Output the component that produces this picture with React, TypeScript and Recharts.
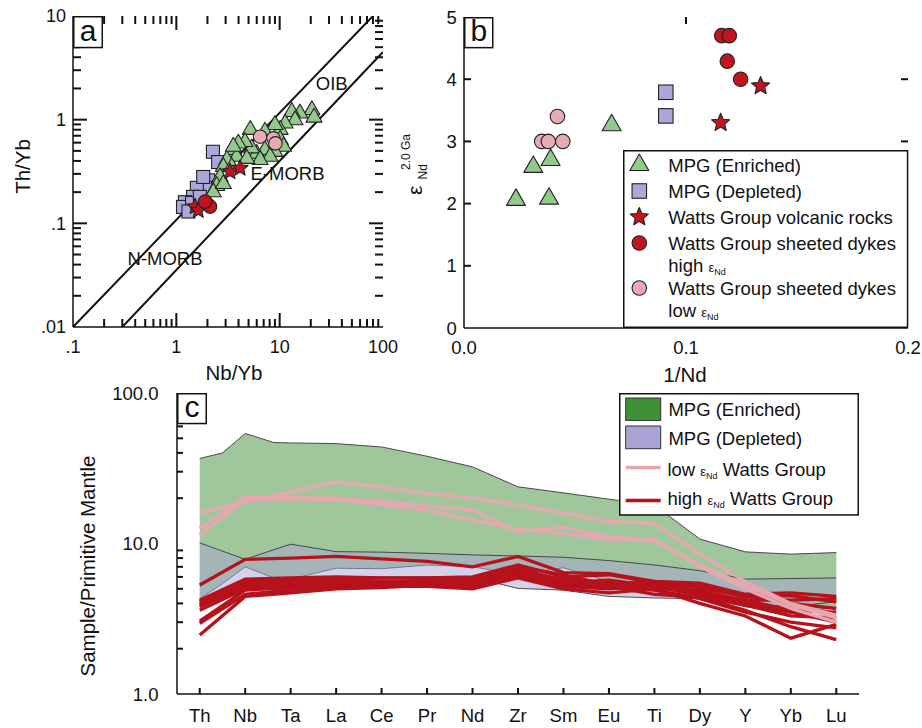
import React from 'react';
import {
  ScatterChart, Scatter, ComposedChart, Area, Line, XAxis, YAxis, Legend, ReferenceDot,
} from 'recharts';

const FONT = '"Liberation Sans", Arial, Helvetica, sans-serif';
const INK = '#111';
const EDGE = '#222';
const C_GREEN = '#93c98c';
const C_LAV = '#aba7d9';
const C_RED = '#c3141e';
const C_PINK = '#e7abb4';
const C_ENV_GREEN = '#3f9037';
const C_ENV_LAV = '#aaa4d5';
const C_RED_LINE = '#b7111c';
const C_PINK_LINE = '#e6a7b0';

// ---------------- Panel a : Th/Yb vs Nb/Yb ----------------
const aEnriched: number[][] = [
  [20.5, 1.24], [15.7, 1.15], [13.1, 1.19], [14.1, 0.99], [11.3, 0.92], [10.1, 0.8], [9.0, 0.89],
  [7.2, 0.77], [5.2, 0.8], [10.1, 0.64], [10.9, 0.55], [9.0, 0.49], [7.2, 0.51], [6.0, 0.47],
  [5.37, 0.53], [4.62, 0.61], [3.98, 0.59], [3.56, 0.51], [3.84, 0.44], [3.08, 0.41], [2.85, 0.35],
  [3.44, 0.35], [2.65, 0.28], [2.46, 0.23], [2.28, 0.2], [2.85, 0.24], [8.07, 0.44], [6.46, 0.41],
  [4.81, 0.42], [21.5, 1.05], [3.56, 0.55],
];
const aDepleted: number[][] = [
  [2.26, 0.49], [2.54, 0.39], [2.03, 0.26], [1.9, 0.22], [1.58, 0.22], [1.45, 0.18], [1.21, 0.16],
  [1.16, 0.144], [1.42, 0.157], [1.69, 0.18], [1.31, 0.13], [1.82, 0.28],
];
const aVolcanic: number[][] = [[1.52, 0.145], [1.63, 0.133], [3.31, 0.315], [4.14, 0.34]];
const aDykesHigh: number[][] = [[1.97, 0.156], [2.12, 0.145], [1.9, 0.162]];
const aDykesLow: number[][] = [[6.46, 0.685], [8.69, 0.66], [9.1, 0.59]];
const aArrayUpper: number[][] = [[0.1, 0.01], [80, 10]];
const aArrayLower: number[][] = [[0.3, 0.01], [100, 4.5]];
const aNotes = [
  { text: 'OIB', x: 31.9, y: 2.24 },
  { text: 'E-MORB', x: 11.9, y: 0.306 },
  { text: 'N-MORB', x: 0.778, y: 0.0463 },
];
const aXMajor = [0.1, 1, 10, 100];
const aXLabels = ['.1', '1', '10', '100'];
const aYMajor = [0.01, 0.1, 1, 10];
const aYLabels = ['.01', '.1', '1', '10'];

// ---------------- Panel b : eNd vs 1/Nd ----------------
const bEnriched: number[][] = [[0.0234, 2.06], [0.0312, 2.59], [0.039, 2.7], [0.0383, 2.08], [0.0665, 3.26]];
const bDepleted: number[][] = [[0.0909, 3.79], [0.0909, 3.41]];
const bVolcanic: number[][] = [[0.1156, 3.3], [0.1336, 3.89]];
const bDykesHigh: number[][] = [[0.1161, 4.7], [0.1195, 4.7], [0.1186, 4.29], [0.1246, 4.0]];
const bDykesLow: number[][] = [[0.0421, 3.4], [0.035, 3.0], [0.038, 3.0], [0.0445, 3.0]];
const bXTicks = [0, 0.1, 0.2];
const bXLabels = ['0.0', '0.1', '0.2'];
const bYTicks = [0, 1, 2, 3, 4, 5];
const bYLabels = ['0', '1', '2', '3', '4', '5'];

// ---------------- Panel c : spider diagram ----------------
const elements = ['Th', 'Nb', 'Ta', 'La', 'Ce', 'Pr', 'Nd', 'Zr', 'Sm', 'Eu', 'Ti', 'Dy', 'Y', 'Yb', 'Lu'];
const envPos = [0, 0.5, 1, 1.63, 2, 3, 4, 5, 6, 7, 8, 9, 10, 11, 12, 13, 14];
const enrichedTop = [36.7, 40, 53.8, 46.9, 46.6, 46.1, 43.8, 38, 32.3, 23.8, 21.7, 19.7, 18, 10.7, 8.8, 8.5, 8.7];
const enrichedBottom = [4.3, 5.4, 7.0, 5.9, 5.8, 6.85, 6.8, 7.2, 7.0, 6.2, 6.9, 5.6, 5.0, 4.4, 3.8, 3.45, 3.75];
const depletedTop = [10.1, 8.9, 7.85, 9.1, 9.9, 8.83, 8.76, 8.6, 8.4, 8.26, 8.1, 7.7, 7.2, 6.6, 5.8, 5.85, 5.9];
const depletedBottom = [3.8, 4.6, 5.4, 5.6, 5.7, 6.0, 6.0, 6.0, 5.97, 5.03, 4.9, 4.45, 4.35, 4.3, 4.0, 3.8, 4.1];
const highEps: number[][] = [
  [5.3, 7.85, 8.0, 8.2, 7.9, 7.6, 7.0, 8.2, 6.4, 6.3, 5.6, 5.45, 4.6, 4.7, 4.45],
  [4.2, 5.8, 5.9, 6.0, 5.9, 5.9, 6.0, 7.2, 6.0, 6.2, 5.5, 5.2, 4.4, 4.5, 4.1],
  [4.0, 5.5, 5.6, 5.8, 5.6, 5.6, 5.7, 6.8, 5.7, 5.4, 5.6, 4.8, 4.2, 3.6, 3.5],
  [3.8, 5.2, 5.4, 5.6, 5.5, 5.7, 5.5, 6.5, 5.5, 5.7, 5.2, 4.5, 3.9, 3.3, 3.2],
  [3.6, 5.0, 5.2, 5.4, 5.3, 5.4, 5.3, 6.0, 5.2, 5.0, 5.3, 4.7, 4.0, 3.5, 3.0],
  [3.05, 4.9, 5.1, 5.3, 5.2, 5.3, 5.1, 6.2, 5.4, 5.1, 4.9, 4.3, 3.5, 3.0, 2.75],
  [2.95, 4.6, 4.9, 5.1, 5.2, 5.2, 5.0, 5.9, 5.0, 4.7, 5.0, 4.0, 3.3, 2.35, 2.9],
  [2.47, 4.45, 4.7, 5.0, 5.1, 5.3, 5.2, 6.6, 5.6, 5.2, 4.6, 4.4, 3.6, 2.8, 2.3],
  [4.1, 5.6, 5.7, 5.7, 5.6, 5.6, 5.8, 7.0, 6.2, 5.3, 5.0, 5.0, 4.5, 4.0, 3.7],
  [3.9, 5.3, 5.5, 5.5, 5.4, 5.5, 5.6, 6.4, 5.8, 5.5, 5.4, 4.6, 4.2, 4.2, 4.3],
];
const lowEps: number[][] = [
  [16.0, 18.9, 22.0, 25.7, 23.8, 21.5, 20.0, 18.0, 15.9, 14.0, 13.6, 8.5, 5.6, 4.0, 3.35],
  [12.6, 20.3, 20.2, 20.0, 19.0, 17.8, 16.7, 12.0, 12.8, 11.0, 10.6, 7.0, 5.0, 3.7, 3.0],
  [11.4, 19.5, 19.8, 19.5, 18.2, 16.6, 14.3, 12.4, 11.6, 10.7, 10.4, 7.2, 5.3, 3.9, 3.2],
];
const cYMajor = [1, 10, 100];
const cYLabels = ['1.0', '10.0', '100.0'];

// ---------------- layout (chart geometry) ----------------
const A_BOX = { left: 0, top: 0, w: 400, h: 390, m: { top: 16, right: 17, bottom: 8, left: 13 }, yw: 60, xh: 55 };
const B_BOX = { left: 400, top: 0, w: 522, h: 390, m: { top: 17, right: 14, bottom: 7, left: 14 }, yw: 50, xh: 55 };
const C_BOX = { left: 0, top: 360, w: 922, h: 368, m: { top: 33, right: 63, bottom: 4, left: 97 }, yw: 80, xh: 30 };
const plotRect = (b: typeof A_BOX) => ({
  l: b.left + b.m.left + b.yw,
  r: b.left + b.w - b.m.right,
  t: b.top + b.m.top,
  b: b.top + b.h - b.m.bottom - b.xh,
});

// ---------------- helpers ----------------
const pts = (arr: number[][]) => arr.map(([x, y]) => ({ x, y }));

function logTicks(lo: number, hi: number) {
  const out: number[] = [];
  for (let d = lo; d < hi * 0.999; d *= 10) {
    for (let k = 1; k < 10; k++) out.push(+(d * k).toPrecision(3));
  }
  out.push(hi);
  return out;
}
const isIn = (list: number[], v: number) => list.some((m) => Math.abs(m - v) <= 1e-9 + Math.abs(m) * 1e-6);

type Side = 'bottom' | 'left';
function makeLabel(side: Side, majors: number[], labels: string[], gap: number, fontSize = 18.5) {
  return function TickLabel(props: any) {
    const x = Number(props.x);
    const y = Number(props.y);
    const v = Number(props.payload && props.payload.value);
    if (!isFinite(x) || !isFinite(y)) return <g />;
    const mi = majors.findIndex((m) => Math.abs(m - v) <= 1e-9 + Math.abs(m) * 1e-6);
    if (mi < 0) return <g />;
    if (side === 'bottom') {
      return <text x={x} y={y + gap} textAnchor="middle" fontSize={fontSize} fontFamily={FONT} fill={INK}>{labels[mi]}</text>;
    }
    return <text x={x - gap} y={y + fontSize * 0.36} textAnchor="end" fontSize={fontSize} fontFamily={FONT} fill={INK}>{labels[mi]}</text>;
  };
}

// inward tick marks of the frames (axis decoration)
type Dom = { lo: number; hi: number; log?: boolean };
const frac = (v: number, d: Dom) =>
  d.log ? (Math.log10(v) - Math.log10(d.lo)) / (Math.log10(d.hi) - Math.log10(d.lo)) : (v - d.lo) / (d.hi - d.lo);
type TickSpec = { vals: number[]; len: number };
const TW = 2;
function FrameTicks({ rect, xd, yd, bottom = [], top = [], left = [], right = [] }: {
  rect: { l: number; r: number; t: number; b: number }; xd: Dom; yd: Dom;
  bottom?: TickSpec[]; top?: TickSpec[]; left?: TickSpec[]; right?: TickSpec[];
}) {
  const X = (v: number) => rect.l + frac(v, xd) * (rect.r - rect.l);
  const Y = (v: number) => rect.b - frac(v, yd) * (rect.b - rect.t);
  const out: React.ReactNode[] = [];
  bottom.forEach((s, i) => s.vals.forEach((v) => out.push(<line key={`b${i}-${v}`} x1={X(v)} x2={X(v)} y1={rect.b} y2={rect.b - s.len} stroke={INK} strokeWidth={TW} />)));
  top.forEach((s, i) => s.vals.forEach((v) => out.push(<line key={`t${i}-${v}`} x1={X(v)} x2={X(v)} y1={rect.t} y2={rect.t + s.len} stroke={INK} strokeWidth={TW} />)));
  left.forEach((s, i) => s.vals.forEach((v) => out.push(<line key={`l${i}-${v}`} x1={rect.l} x2={rect.l + s.len} y1={Y(v)} y2={Y(v)} stroke={INK} strokeWidth={TW} />)));
  right.forEach((s, i) => s.vals.forEach((v) => out.push(<line key={`r${i}-${v}`} x1={rect.r} x2={rect.r - s.len} y1={Y(v)} y2={Y(v)} stroke={INK} strokeWidth={TW} />)));
  return <g>{out}</g>;
}

type Kind = 'tri' | 'sq' | 'star' | 'dot';
function drawMarker(kind: Kind, cx: number, cy: number, s: number, fill: string) {
  if (cx == null || cy == null || !isFinite(cx) || !isFinite(cy)) return <g />;
  const sw = 1.1;
  if (kind === 'tri') {
    const h = s * 0.866;
    const p = `${cx},${cy - (2 * h) / 3} ${cx - s / 2},${cy + h / 3} ${cx + s / 2},${cy + h / 3}`;
    return <polygon points={p} fill={fill} stroke={EDGE} strokeWidth={sw} strokeLinejoin="round" />;
  }
  if (kind === 'sq') {
    return <rect x={cx - s / 2} y={cy - s / 2} width={s} height={s} fill={fill} stroke={EDGE} strokeWidth={sw} />;
  }
  if (kind === 'star') {
    const R = s / 2;
    const r = R * 0.45;
    const a: string[] = [];
    for (let i = 0; i < 10; i++) {
      const ang = -Math.PI / 2 + (i * Math.PI) / 5;
      const rad = i % 2 === 0 ? R : r;
      a.push(`${cx + rad * Math.cos(ang)},${cy + rad * Math.sin(ang)}`);
    }
    return <polygon points={a.join(' ')} fill={fill} stroke={EDGE} strokeWidth={sw} strokeLinejoin="round" />;
  }
  return <circle cx={cx} cy={cy} r={s / 2} fill={fill} stroke={EDGE} strokeWidth={sw} />;
}
const shape = (kind: Kind, s: number, fill: string) => (p: any) => drawMarker(kind, p.cx, p.cy, s, fill);
const noShape = () => <g />;

const axisLine = { stroke: INK, strokeWidth: 1.5 };

// ---------------- Panel a ----------------
function PanelA() {
  const xTicks = logTicks(0.1, 100);
  const yTicks = logTicks(0.01, 10);
  const B = A_BOX;
  return (
    <div style={{ position: 'absolute', left: B.left, top: B.top }}>
      <ScatterChart width={B.w} height={B.h} margin={B.m}>
        <XAxis
          dataKey="x" type="number" scale="log" domain={[0.1, 100]} allowDataOverflow ticks={xTicks} interval={0}
          tickSize={0} tickMargin={0} tickLine={false} axisLine={axisLine} height={B.xh}
          tick={makeLabel('bottom', aXMajor, aXLabels, 26, 18)}
          label={(p: any) => {
            const vb = p.viewBox || { x: 73, y: 327, width: 310, height: 55 };
            return (
              <text x={vb.x + vb.width / 2 + 6} y={vb.y + 52.7} textAnchor="middle" fontSize={20.5} fontFamily={FONT} fill={INK}>Nb/Yb</text>
            );
          }}
        />
        <XAxis
          xAxisId="t" orientation="top" dataKey="x" type="number" scale="log" domain={[0.1, 100]} allowDataOverflow
          tick={false} tickLine={false} axisLine={axisLine} height={0}
        />
        <YAxis
          dataKey="y" type="number" scale="log" domain={[0.01, 10]} allowDataOverflow ticks={yTicks} interval={0}
          tickSize={0} tickMargin={0} tickLine={false} axisLine={axisLine} width={B.yw}
          tick={makeLabel('left', aYMajor, aYLabels, 7, 18)}
          label={(p: any) => {
            const vb = p.viewBox || { x: 13, y: 16, width: 60, height: 311 };
            const cx = vb.x + 17;
            const cy = vb.y + vb.height / 2 - 5;
            return (
              <text x={cx} y={cy} transform={`rotate(-90 ${cx} ${cy})`} textAnchor="middle" fontSize={20.5} fontFamily={FONT} fill={INK}>Th/Yb</text>
            );
          }}
        />
        <YAxis
          yAxisId="r" orientation="right" dataKey="y" type="number" scale="log" domain={[0.01, 10]} allowDataOverflow
          tick={false} tickLine={false} axisLine={axisLine} width={0}
        />
        <Scatter name="upper" data={pts(aArrayUpper)} xAxisId="t" yAxisId="r" line={{ stroke: INK, strokeWidth: 2 }} shape={noShape} isAnimationActive={false} legendType="none" />
        <Scatter name="lower" data={pts(aArrayLower)} xAxisId="t" yAxisId="r" line={{ stroke: INK, strokeWidth: 2 }} shape={noShape} isAnimationActive={false} legendType="none" />
        <Scatter name="MPG (Depleted)" data={pts(aDepleted)} shape={shape('sq', 13, C_LAV)} isAnimationActive={false} />
        <Scatter name="MPG (Enriched)" data={pts(aEnriched)} shape={shape('tri', 16, C_GREEN)} isAnimationActive={false} />
        <Scatter name="low" data={pts(aDykesLow)} shape={shape('dot', 13.5, C_PINK)} isAnimationActive={false} />
        <Scatter name="Volcanic" data={pts(aVolcanic)} shape={shape('star', 17, C_RED)} isAnimationActive={false} />
        <Scatter name="high" data={pts(aDykesHigh)} shape={shape('dot', 13.5, C_RED)} isAnimationActive={false} />
        {aNotes.map((n) => (
          <ReferenceDot
            key={n.text} x={n.x} y={n.y} r={1} fill="none" stroke="none"
            label={{ value: n.text, position: 'center', fontSize: 18.5, fill: INK, fontFamily: FONT }}
          />
        ))}
      </ScatterChart>
    </div>
  );
}

// ---------------- Panel b ----------------
const bLegendItems: { kind: Kind; fill: string; label: string; sub: string }[] = [
  { kind: 'tri', fill: C_GREEN, label: 'MPG (Enriched)', sub: '' },
  { kind: 'sq', fill: C_LAV, label: 'MPG (Depleted)', sub: '' },
  { kind: 'star', fill: C_RED, label: 'Watts Group volcanic rocks', sub: '' },
  { kind: 'dot', fill: C_RED, label: 'Watts Group sheeted dykes', sub: 'high' },
  { kind: 'dot', fill: C_PINK, label: 'Watts Group sheeted dykes', sub: 'low' },
];
const bLegendSizes: Record<Kind, number> = { tri: 19, sq: 14.5, star: 19, dot: 14.5 };

function LegendB() {
  const w = 285.3;
  const h = 178;
  const rowY = [15, 41, 67, 93, 138];
  return (
    <svg width={w} height={h} style={{ display: 'block', overflow: 'visible' }}>
      <rect x={0.75} y={0.75} width={w - 1.5} height={h - 1.5} fill="#fff" stroke={INK} strokeWidth={1.5} />
      {bLegendItems.map((it, i) => (
        <g key={i}>
          {drawMarker(it.kind, 16.3, rowY[i], bLegendSizes[it.kind], it.fill)}
          <text x={45.3} y={rowY[i] + 6.6} fontSize={18.5} fontFamily={FONT} fill={INK}>{it.label}</text>
          {it.sub && (
            <text x={45.3} y={rowY[i] + 29.4} fontSize={18.5} fontFamily={FONT} fill={INK}>
              {it.sub + ' '}
              <tspan fontSize={13}>ε</tspan>
              <tspan fontSize={9} dy={3}>Nd</tspan>
            </text>
          )}
        </g>
      ))}
    </svg>
  );
}

function PanelB() {
  const B = B_BOX;
  return (
    <div style={{ position: 'absolute', left: B.left, top: B.top }}>
      <ScatterChart width={B.w} height={B.h} margin={B.m}>
        <XAxis
          dataKey="x" type="number" domain={[0, 0.2]} allowDataOverflow ticks={bXTicks} interval={0}
          tickSize={0} tickMargin={0} tickLine={false} axisLine={axisLine} height={B.xh}
          tick={makeLabel('bottom', bXTicks, bXLabels, 25.6, 18.5)}
          label={(p: any) => {
            const vb = p.viewBox || { x: 64, y: 328, width: 444, height: 55 };
            return (
              <text x={vb.x + vb.width / 2 - 1} y={vb.y + 53.8} textAnchor="middle" fontSize={20.5} fontFamily={FONT} fill={INK}>1/Nd</text>
            );
          }}
        />
        <XAxis
          xAxisId="t" orientation="top" dataKey="x" type="number" domain={[0, 0.2]} allowDataOverflow
          tick={false} tickLine={false} axisLine={axisLine} height={0}
        />
        <YAxis
          dataKey="y" type="number" domain={[0, 5]} allowDataOverflow ticks={bYTicks} interval={0}
          tickSize={0} tickMargin={0} tickLine={false} axisLine={axisLine} width={B.yw}
          tick={makeLabel('left', bYTicks, bYLabels, 7.3, 18.5)}
          label={(p: any) => {
            const vb = p.viewBox || { x: 14, y: 17, width: 50, height: 311 };
            const gx = vb.x + 7.7;
            const gy = vb.y + 178;
            return (
              <g transform={`translate(${gx} ${gy}) rotate(-90)`} fontFamily={FONT} fill={INK}>
                <text x={0} y={0} fontSize={21}>ε</text>
                <text x={15.5} y={5} fontSize={12}>Nd</text>
                <text x={25} y={-11.7} fontSize={12}>2.0 Ga</text>
              </g>
            );
          }}
        />
        <YAxis
          yAxisId="r" orientation="right" dataKey="y" type="number" domain={[0, 5]} allowDataOverflow
          tick={false} tickLine={false} axisLine={axisLine} width={0}
        />
        <Scatter name="MPG (Enriched)" data={pts(bEnriched)} shape={shape('tri', 19, C_GREEN)} isAnimationActive={false} />
        <Scatter name="MPG (Depleted)" data={pts(bDepleted)} xAxisId="t" yAxisId="r" shape={shape('sq', 14.5, C_LAV)} isAnimationActive={false} />
        <Scatter name="Watts Group volcanic rocks" data={pts(bVolcanic)} shape={shape('star', 19, C_RED)} isAnimationActive={false} />
        <Scatter name="high" data={pts(bDykesHigh)} shape={shape('dot', 14.5, C_RED)} isAnimationActive={false} />
        <Scatter name="low" data={pts(bDykesLow)} shape={shape('dot', 14.5, C_PINK)} isAnimationActive={false} />
        <Legend
          layout="horizontal" verticalAlign="middle" align="center"
          wrapperStyle={{ position: 'absolute', left: 222.7, top: 150, width: 285.3, height: 178 }}
          content={() => <LegendB />}
        />
      </ScatterChart>
    </div>
  );
}

// ---------------- Panel c ----------------
const cRows = envPos.map((x, i) => {
  const row: any = { x, eLo: enrichedBottom[i], eHi: enrichedTop[i], dLo: depletedBottom[i], dHi: depletedTop[i] };
  if (Number.isInteger(x)) {
    highEps.forEach((s, k) => { row[`h${k}`] = s[x]; });
    lowEps.forEach((s, k) => { row[`l${k}`] = s[x]; });
  }
  return row;
});
const cXTicks = elements.map((_, i) => i);

function LegendC() {
  const w = 240;
  const h = 122.7;
  return (
    <svg width={w} height={h} style={{ display: 'block', overflow: 'visible' }}>
      <rect x={0.75} y={0.75} width={w - 1.5} height={h - 1.5} fill="#fff" stroke={INK} strokeWidth={1.5} />
      <rect x={6.7} y={5} width={35} height={22.4} fill={C_ENV_GREEN} stroke="#333" strokeWidth={1} />
      <text x={49.4} y={22.6} fontSize={18.5} fontFamily={FONT} fill={INK}>MPG (Enriched)</text>
      <rect x={6.7} y={33} width={35} height={22.7} fill={C_ENV_LAV} stroke="#333" strokeWidth={1} />
      <text x={49.4} y={51.6} fontSize={18.5} fontFamily={FONT} fill={INK}>MPG (Depleted)</text>
      <line x1={6.7} x2={41.7} y1={74.4} y2={74.4} stroke={C_PINK_LINE} strokeWidth={3.5} />
      <text x={48.4} y={83.3} fontSize={18.5} fontFamily={FONT} fill={INK}>
        {'low '}
        <tspan fontSize={13}>ε</tspan>
        <tspan fontSize={9} dy={3}>Nd</tspan>
        <tspan dy={-3}>{' Watts Group'}</tspan>
      </text>
      <line x1={6.7} x2={41.7} y1={107.4} y2={107.4} stroke={C_RED_LINE} strokeWidth={3.5} />
      <text x={48.4} y={111.6} fontSize={18.5} fontFamily={FONT} fill={INK}>
        {'high '}
        <tspan fontSize={13}>ε</tspan>
        <tspan fontSize={9} dy={3}>Nd</tspan>
        <tspan dy={-3}>{' Watts Group'}</tspan>
      </text>
    </svg>
  );
}

function PanelC() {
  const yTicks = logTicks(1, 100);
  const B = C_BOX;
  return (
    <div style={{ position: 'absolute', left: B.left, top: B.top }}>
      <ComposedChart width={B.w} height={B.h} data={cRows} margin={B.m}>
        <XAxis
          dataKey="x" type="number" domain={[-0.5, 14.5]} allowDataOverflow ticks={cXTicks} interval={0}
          tickSize={0} tickMargin={0} tickLine={false} axisLine={axisLine} height={B.xh}
          tick={makeLabel('bottom', cXTicks, elements, 28, 18.5)}
        />
        <XAxis
          xAxisId="t" orientation="top" dataKey="x" type="number" domain={[-0.5, 14.5]} allowDataOverflow
          height={0} tick={false} tickLine={false} axisLine={axisLine}
        />
        <YAxis
          type="number" scale="log" domain={[1, 100]} allowDataOverflow ticks={yTicks} interval={0}
          tickSize={0} tickMargin={0} tickLine={false} axisLine={axisLine} width={B.yw}
          tick={makeLabel('left', cYMajor, cYLabels, 18.5, 18.5)}
          label={(p: any) => {
            const vb = p.viewBox || { x: 97, y: 33, width: 80, height: 301 };
            const cx = vb.x - 2;
            const cy = vb.y + vb.height / 2 + 22.5;
            return (
              <text x={cx} y={cy} transform={`rotate(-90 ${cx} ${cy})`} textAnchor="middle" fontSize={20.5} fontFamily={FONT} fill={INK}>Sample/Primitive Mantle</text>
            );
          }}
        />
        <YAxis
          yAxisId="r" orientation="right" type="number" scale="log" domain={[1, 100]} allowDataOverflow
          width={0} tick={false} tickLine={false} axisLine={axisLine}
        />
        <Area
          dataKey={(d: any) => [d.eLo, d.eHi]} name="MPG (Enriched)" fill={C_ENV_GREEN} fillOpacity={0.5}
          stroke="#3a3a3a" strokeWidth={0.9} isAnimationActive={false} activeDot={false}
        />
        <Area
          dataKey={(d: any) => [d.dLo, d.dHi]} name="MPG (Depleted)" fill={C_ENV_LAV} fillOpacity={0.5}
          stroke="#3a3a3a" strokeWidth={0.9} isAnimationActive={false} activeDot={false}
        />
        {highEps.map((_, k) => (
          <Line key={`h${k}`} dataKey={`h${k}`} stroke={C_RED_LINE} strokeWidth={3.3} dot={false} activeDot={false} connectNulls isAnimationActive={false} legendType="none" />
        ))}
        {lowEps.map((_, k) => (
          <Line key={`l${k}`} dataKey={`l${k}`} stroke={C_PINK_LINE} strokeWidth={3.3} dot={false} activeDot={false} connectNulls isAnimationActive={false} legendType="none" />
        ))}
        <Line xAxisId="t" yAxisId="r" dataKey="eHi" stroke="none" dot={false} activeDot={false} isAnimationActive={false} legendType="none" />
        <Legend
          layout="horizontal" verticalAlign="middle" align="center"
          wrapperStyle={{ position: 'absolute', left: 619.3, top: 33.3, width: 240, height: 122.7 }}
          content={() => <LegendC />}
        />
      </ComposedChart>
    </div>
  );
}

function Ticks() {
  const aX = logTicks(0.1, 100).filter((v) => v > 0.1 && v < 100);
  const aY = logTicks(0.01, 10).filter((v) => v > 0.01 && v < 10);
  const aXM = aX.filter((v) => isIn(aXMajor, v));
  const aXm = aX.filter((v) => !isIn(aXMajor, v));
  const aYM = aY.filter((v) => isIn(aYMajor, v));
  const aYm = aY.filter((v) => !isIn(aYMajor, v));
  const cY = logTicks(1, 100).filter((v) => v > 1 && v < 100 && !isIn(cYMajor, v));
  return (
    <svg width={922} height={728} style={{ position: 'absolute', left: 0, top: 0, pointerEvents: 'none', zIndex: 50 }}>
      <FrameTicks
        rect={plotRect(A_BOX)} xd={{ lo: 0.1, hi: 100, log: true }} yd={{ lo: 0.01, hi: 10, log: true }}
        bottom={[{ vals: aXM, len: 14 }, { vals: aXm, len: 8 }]} top={[{ vals: aXM, len: 14 }, { vals: aXm, len: 8 }]}
        left={[{ vals: aYM, len: 14 }, { vals: aYm, len: 8 }]} right={[{ vals: aYM, len: 14 }, { vals: aYm, len: 8 }]}
      />
      <FrameTicks
        rect={plotRect(B_BOX)} xd={{ lo: 0, hi: 0.2 }} yd={{ lo: 0, hi: 5 }}
        top={[{ vals: [0.1], len: 7 }]} left={[{ vals: [1, 2, 3, 4], len: 7 }]} right={[{ vals: [3, 4], len: 7 }]}
      />
      <FrameTicks
        rect={plotRect(C_BOX)} xd={{ lo: -0.5, hi: 14.5 }} yd={{ lo: 1, hi: 100, log: true }}
        bottom={[{ vals: cXTicks, len: 6 }]} left={[{ vals: cY, len: 6 }]}
      />
    </svg>
  );
}

function PanelTag({ letter, x, y, w, h }: { letter: string; x: number; y: number; w: number; h: number }) {
  return (
    <svg width={w} height={h} style={{ position: 'absolute', left: x, top: y, overflow: 'visible', zIndex: 60 }}>
      <rect x={0.75} y={0.75} width={w - 1.5} height={h - 1.5} fill="#fff" stroke={INK} strokeWidth={1.5} />
      <text x={w / 2} y={h - 7.5} textAnchor="middle" fontSize={30} fontFamily={FONT} fill={INK}>{letter}</text>
    </svg>
  );
}

export default function App() {
  return (
    <div style={{ position: 'absolute', left: 0, top: 0, width: 922, height: 728, background: '#fff', fontFamily: FONT, overflow: 'hidden' }}>
      <PanelA />
      <PanelB />
      <PanelC />
      <Ticks />
      <PanelTag letter="a" x={73} y={16} w={30} h={32.3} />
      <PanelTag letter="b" x={464} y={17.3} w={29.5} h={31.4} />
      <PanelTag letter="c" x={176.7} y={392.7} w={30} h={31.3} />
    </div>
  );
}
